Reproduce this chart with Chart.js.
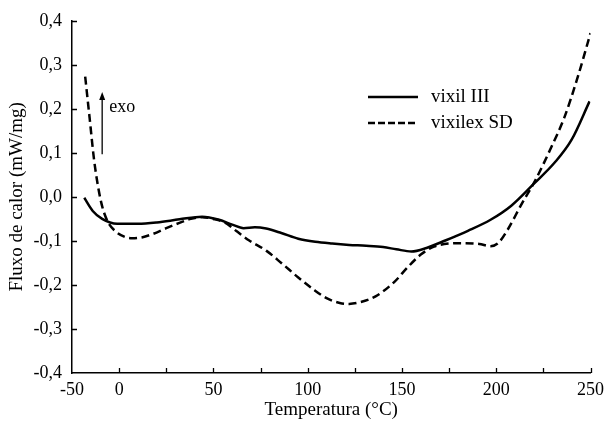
<!DOCTYPE html>
<html>
<head>
<meta charset="utf-8">
<script src="https://cdn.jsdelivr.net/npm/chart.js@4"></script>
<style>
  body { margin: 0; background: #fff; }
  #wrap { width: 610px; height: 433px; }
</style>
</head>
<body>
<div id="wrap"><canvas id="dsc" width="610" height="433"></canvas></div>
<script>
// ---- dados ----
const vixilTemp = [-18.5, -14, -9, -1, 10, 20, 32, 44, 53, 60, 66, 72, 78, 86, 95, 104, 113, 122, 131, 140, 147, 155, 163, 173, 185, 197, 208, 220, 231, 240, 249.5];
const vixilFlux = [-0.002, -0.032, -0.050, -0.061, -0.061, -0.058, -0.051, -0.045, -0.052, -0.063, -0.071, -0.069, -0.072, -0.082, -0.095, -0.102, -0.106, -0.109, -0.111, -0.114, -0.119, -0.124, -0.116, -0.099, -0.077, -0.052, -0.020, 0.030, 0.078, 0.130, 0.217];

const vixilexTemp = [-18, -15.6, -13.2, -9.7, -6.3, -2, 3, 7, 12, 18, 25, 32, 38, 44, 50, 56, 62, 69, 78, 86, 95, 103, 110, 117, 122, 128, 136, 146, 153, 160, 167, 175, 183, 191, 197, 201, 206, 213, 221, 229, 236, 243, 250];
const vixilexFlux = [0.273, 0.177, 0.081, -0.009, -0.054, -0.078, -0.091, -0.094, -0.092, -0.084, -0.071, -0.059, -0.050, -0.046, -0.050, -0.058, -0.077, -0.099, -0.122, -0.150, -0.183, -0.210, -0.230, -0.241, -0.243, -0.239, -0.226, -0.193, -0.160, -0.131, -0.113, -0.106, -0.105, -0.107, -0.112, -0.105, -0.075, -0.020, 0.040, 0.111, 0.179, 0.269, 0.372];

const xTickValues = [-25, 0, 25, 50, 75, 100, 125, 150, 175, 200, 225, 250];
const xTickLabels = ['-50', '0', '', '50', '', '100', '', '150', '', '200', '', '250'];
const yTickValues = [-0.4, -0.3, -0.2, -0.1, 0, 0.1, 0.2, 0.3, 0.4];
const yTickLabels = ['-0,4', '-0,3', '-0,2', '-0,1', '0,0', '0,1', '0,2', '0,3', '0,4'];

const SERIF = '"Liberation Serif", "Times New Roman", serif';

function toPoints(xs, ys) {
  return xs.map((x, i) => ({ x: x, y: ys[i] }));
}

// marcas dos eixos voltadas para dentro
const inwardTicks = {
  id: 'inwardTicks',
  afterDraw(chart) {
    const ctx = chart.ctx;
    const xs = chart.scales.x, ys = chart.scales.y;
    const a = chart.chartArea;
    ctx.save();
    ctx.strokeStyle = '#000';
    ctx.lineWidth = 1.3;
    ctx.beginPath();
    xTickValues.forEach(v => {
      if (v === xs.min) return;
      const px = Math.round(xs.getPixelForValue(v)) + 0.5;
      ctx.moveTo(px, a.bottom);
      ctx.lineTo(px, a.bottom - 5);
    });
    yTickValues.forEach(v => {
      if (v === ys.min) return;
      const py = Math.round(ys.getPixelForValue(v)) + 0.5;
      ctx.moveTo(a.left, py);
      ctx.lineTo(a.left + 5, py);
    });
    ctx.stroke();
    ctx.restore();
  }
};

// legenda dentro da área do gráfico + seta "exo"
const notes = {
  id: 'notes',
  afterDraw(chart) {
    const ctx = chart.ctx;
    const xs = chart.scales.x, ys = chart.scales.y;
    ctx.save();
    ctx.font = '19px ' + SERIF;
    ctx.fillStyle = '#000';
    ctx.textBaseline = 'middle';
    chart.data.datasets.forEach((ds, i) => {
      const y = 97 + i * 26;
      ctx.strokeStyle = '#000';
      ctx.lineWidth = 2.3;
      ctx.setLineDash(ds.borderDash.length ? [7, 3] : []);
      ctx.beginPath();
      ctx.moveTo(368, y);
      ctx.lineTo(418, y);
      ctx.stroke();
      ctx.setLineDash([]);
      ctx.fillText(ds.label, 431, y);
    });

    // seta exo
    const ax = xs.getPixelForValue(-9);
    const y0 = ys.getPixelForValue(0.097);
    const y1 = ys.getPixelForValue(0.238);
    ctx.lineWidth = 1.3;
    ctx.beginPath();
    ctx.moveTo(ax, y0);
    ctx.lineTo(ax, y1 + 5);
    ctx.stroke();
    ctx.beginPath();
    ctx.moveTo(ax, y1);
    ctx.lineTo(ax - 3, y1 + 8);
    ctx.lineTo(ax + 3, y1 + 8);
    ctx.closePath();
    ctx.fill();
    ctx.font = '18px ' + SERIF;
    ctx.textAlign = 'left';
    ctx.fillText('exo', ax + 7, ys.getPixelForValue(0.203));
    ctx.restore();
  }
};

const chart = new Chart(document.getElementById('dsc'), {
  type: 'line',
  data: {
    datasets: [
      {
        label: 'vixil III',
        data: toPoints(vixilTemp, vixilFlux),
        borderColor: '#000',
        borderWidth: 2.5,
        borderDash: [],
        pointRadius: 0,
        cubicInterpolationMode: 'monotone',
        fill: false
      },
      {
        label: 'vixilex SD',
        data: toPoints(vixilexTemp, vixilexFlux),
        borderColor: '#000',
        borderWidth: 2.5,
        borderDash: [8, 4.5],
        pointRadius: 0,
        cubicInterpolationMode: 'monotone',
        fill: false
      }
    ]
  },
  options: {
    responsive: false,
    animation: false,
    layout: { padding: { left: 0, right: 17, top: 19, bottom: 0 } },
    plugins: {
      legend: { display: false },
      tooltip: { enabled: false }
    },
    scales: {
      x: {
        type: 'linear',
        min: -25,
        max: 250,
        afterBuildTicks: s => { s.ticks = xTickValues.map(v => ({ value: v })); },
        afterFit: s => { s.height = 60; },
        grid: { display: false, drawTicks: false },
        border: { display: true, color: '#000', width: 1.5 },
        ticks: {
          autoSkip: false,
          maxRotation: 0,
          padding: 6,
          color: '#000',
          font: { family: SERIF, size: 18 },
          callback: (v, i) => xTickLabels[i]
        },
        title: {
          display: true,
          text: 'Temperatura (°C)',
          color: '#000',
          font: { family: SERIF, size: 19 },
          padding: { top: 0, bottom: 12 }
        }
      },
      y: {
        type: 'linear',
        min: -0.4,
        max: 0.4,
        afterBuildTicks: s => { s.ticks = yTickValues.map(v => ({ value: v })); },
        afterFit: s => { s.width = 72; },
        grid: { display: false, drawTicks: false },
        border: { display: true, color: '#000', width: 1.5 },
        ticks: {
          autoSkip: false,
          padding: 10,
          color: '#000',
          font: { family: SERIF, size: 18 },
          callback: (v, i) => yTickLabels[i]
        },
        title: {
          display: true,
          text: 'Fluxo de calor (mW/mg)',
          color: '#000',
          font: { family: SERIF, size: 19 },
          padding: { top: 6, bottom: 0 }
        }
      }
    }
  },
  plugins: [inwardTicks, notes]
});
</script>
</body>
</html>
